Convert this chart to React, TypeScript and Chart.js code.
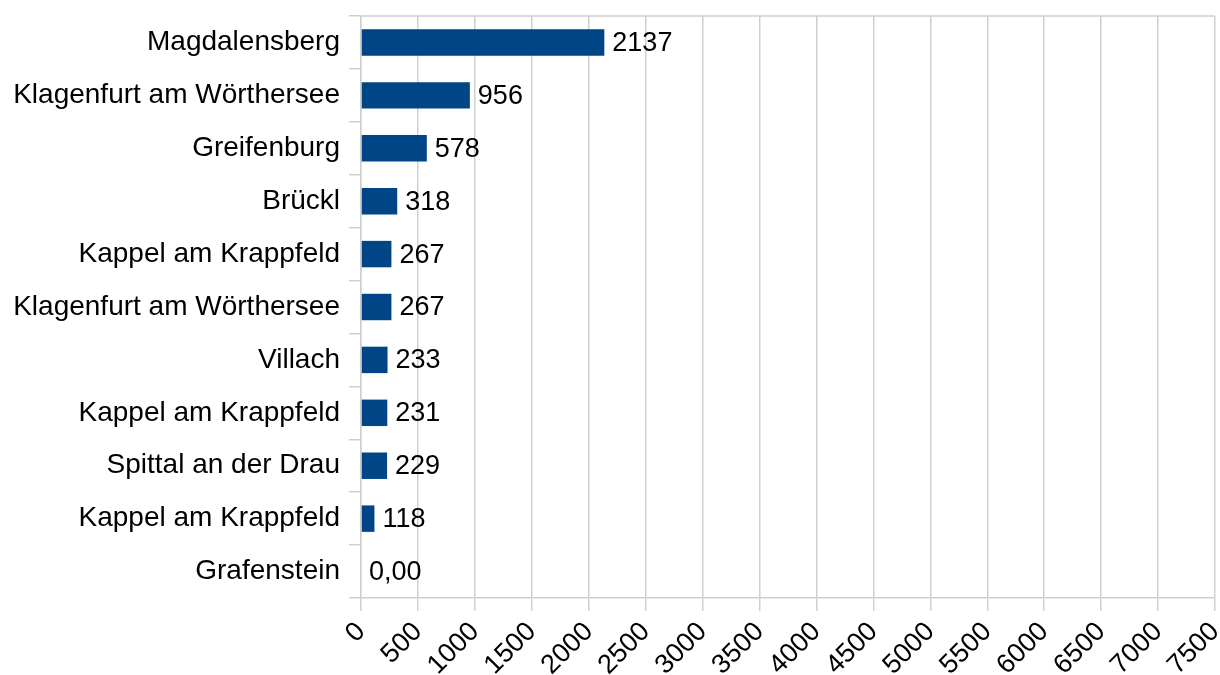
import React, { useEffect, useRef } from "react";
import { Chart, registerables } from "chart.js";

Chart.register(...registerables);

const categories = [
  "Magdalensberg",
  "Klagenfurt am Wörthersee",
  "Greifenburg",
  "Brückl",
  "Kappel am Krappfeld",
  "Klagenfurt am Wörthersee",
  "Villach",
  "Kappel am Krappfeld",
  "Spittal an der Drau",
  "Kappel am Krappfeld",
  "Grafenstein",
];
const values = [2137, 956, 578, 318, 267, 267, 233, 231, 229, 118, 0];
const valueLabels = ["2137", "956", "578", "318", "267", "267", "233", "231", "229", "118", "0,00"];
const xMin = 0;
const xMax = 7500;
const xStep = 500;

const FONT = "'Liberation Sans', Arial, sans-serif";
const FONT_SIZE = 27;
const CAT_FONT_SIZE = 28;
const GRID = "#cfcfcf";

const valueLabelPlugin = {
  id: "valueLabels",
  afterDatasetsDraw(chart: any) {
    const ctx = chart.ctx;
    const meta = chart.getDatasetMeta(0);
    ctx.save();
    ctx.font = `${FONT_SIZE}px ${FONT}`;
    ctx.fillStyle = "#000";
    ctx.textAlign = "left";
    ctx.textBaseline = "middle";
    meta.data.forEach((el: any, i: number) => {
      ctx.fillText(valueLabels[i], el.x + 8, el.y + 1);
    });
    ctx.restore();
  },
};

const topBorderPlugin = {
  id: "topBorder",
  afterDraw(chart: any) {
    const { ctx, chartArea } = chart;
    ctx.save();
    ctx.strokeStyle = GRID;
    ctx.lineWidth = 1.5;
    ctx.beginPath();
    ctx.moveTo(chartArea.left, chartArea.top);
    ctx.lineTo(chartArea.right, chartArea.top);
    ctx.stroke();
    ctx.restore();
  },
};

export default function App() {
  const ref = useRef<HTMLCanvasElement>(null);
  useEffect(() => {
    document.body.style.margin = "0";
    const chart = new Chart(ref.current!, {
      type: "bar",
      data: {
        labels: categories,
        datasets: [
          {
            data: values,
            backgroundColor: "#004586",
            borderWidth: 0,
            barPercentage: 0.5,
            categoryPercentage: 1,
          },
        ],
      },
      options: {
        indexAxis: "y",
        animation: false,
        responsive: false,
        maintainAspectRatio: false,
        layout: { padding: { top: 16, right: 5, left: 0, bottom: 0 } },
        plugins: {
          legend: { display: false },
          tooltip: { enabled: false },
        },
        scales: {
          x: {
            min: xMin,
            max: xMax,
            ticks: {
              stepSize: xStep,
              maxRotation: 45,
              minRotation: 45,
              color: "#000",
              font: { family: FONT, size: FONT_SIZE },
              padding: 5,
              callback: (v: any) => String(v),
            },
            grid: { color: GRID, lineWidth: 1.5, tickLength: 13 },
            border: { color: GRID, width: 1.5 },
            afterFit: (scale: any) => {
              scale.height = 77;
              scale.paddingLeft = 0;
              scale.paddingRight = 0;
              scale.paddingTop = 0;
              scale.paddingBottom = 0;
            },
          },
          y: {
            ticks: {
              color: "#000",
              font: { family: FONT, size: CAT_FONT_SIZE },
              padding: 9,
            },
            grid: {
              offset: true,
              drawOnChartArea: false,
              color: GRID,
              lineWidth: 1.5,
              tickLength: 12,
            },
            border: { color: GRID, width: 1.5 },
            afterFit: (scale: any) => {
              scale.width = 361;
              scale.paddingLeft = 0;
              scale.paddingRight = 0;
              scale.paddingTop = 0;
              scale.paddingBottom = 0;
            },
          },
        },
      },
      plugins: [valueLabelPlugin, topBorderPlugin],
    });
    return () => chart.destroy();
  }, []);
  return (
    <div style={{ width: 1220, height: 675 }}>
      <canvas ref={ref} width={1220} height={675} style={{ display: "block" }} />
    </div>
  );
}
